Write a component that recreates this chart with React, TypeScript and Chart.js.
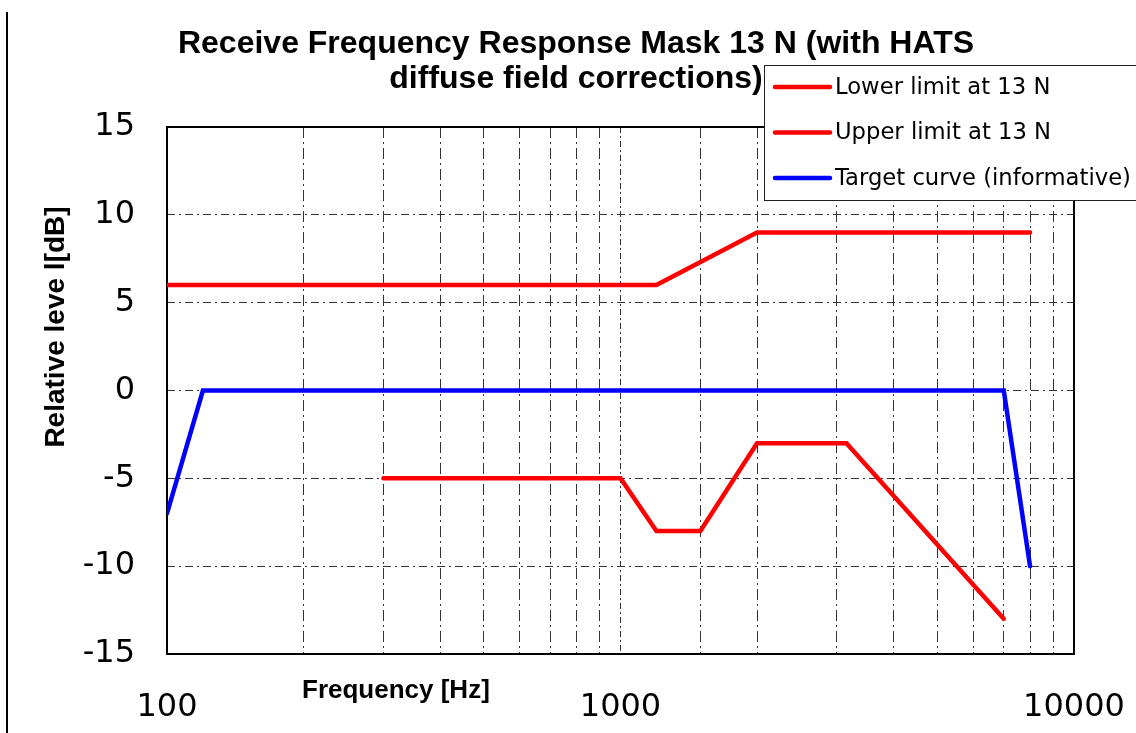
import React, { useEffect, useRef } from 'react';
import { Chart, registerables } from 'chart.js';

Chart.register(...registerables);

// ---- data ----
const chartTitle = ['Receive Frequency Response Mask 13 N (with HATS', 'diffuse field corrections)'];
const xAxisTitle = 'Frequency [Hz]';
const yAxisTitle = 'Relative leve l[dB]';
const seriesLabels = ['Lower limit at 13 N', 'Upper limit at 13 N', 'Target curve (informative)'];
const seriesColors = ['#ff0000', '#ff0000', '#0000ff'];

const lowerFreq = [300, 1000, 1200, 1500, 2000, 3150, 7000];
const lowerLevel = [-5, -5, -8, -8, -3, -3, -13];
const upperFreq = [100, 1200, 2000, 8000];
const upperLevel = [6, 6, 9, 9];
const targetFreq = [100, 120, 7000, 8000];
const targetLevel = [-7, 0, 0, -10];

const xTickLabels = [100, 1000, 10000];
const yTickValues = [-15, -10, -5, 0, 5, 10, 15];

const toPoints = (xs: number[], ys: number[]) => xs.map((x, i) => ({ x, y: ys[i] }));

const TICK_FONT = { family: '"DejaVu Sans", Verdana, sans-serif', size: 32, weight: 'normal' as const };

const decor = {
  id: 'decor',
  beforeDatasetsDraw(chart: any) {
    const { ctx, chartArea: a } = chart;
    ctx.save();
    ctx.strokeStyle = '#000';
    ctx.lineWidth = 2;
    ctx.strokeRect(a.left, a.top, a.right - a.left, a.bottom - a.top);
    ctx.restore();
  },
  afterDraw(chart: any) {
    const { ctx } = chart;
    ctx.save();
    // page rule at the left
    ctx.fillStyle = '#000';
    ctx.fillRect(6, 12, 2, 733 - 12);

    // title
    ctx.fillStyle = '#000';
    ctx.font = 'bold 32px "Liberation Sans", Arial, sans-serif';
    ctx.textAlign = 'center';
    ctx.textBaseline = 'alphabetic';
    ctx.fillText(chartTitle[0], 576, 53);
    ctx.fillText(chartTitle[1], 576, 88);

    // x axis title
    ctx.font = 'bold 26px "Liberation Sans", Arial, sans-serif';
    ctx.textAlign = 'left';
    ctx.fillText(xAxisTitle, 302, 698);

    // y axis title
    ctx.save();
    ctx.font = 'bold 28px "Liberation Sans", Arial, sans-serif';
    ctx.translate(64, 327);
    ctx.rotate(-Math.PI / 2);
    ctx.textAlign = 'center';
    ctx.fillText(yAxisTitle, 0, 0);
    ctx.restore();

    // legend
    const lx = 764, ly = 65, lh = 135;
    ctx.fillStyle = '#fff';
    ctx.fillRect(lx, ly, 400, lh);
    ctx.strokeStyle = '#222';
    ctx.lineWidth = 1;
    ctx.strokeRect(lx + 0.5, ly + 0.5, 400, lh);
    ctx.font = '22.7px "DejaVu Sans", Verdana, sans-serif';
    ctx.textAlign = 'left';
    ctx.textBaseline = 'middle';
    seriesLabels.forEach((label, i) => {
      const y = ly + 22 + i * 45.5;
      ctx.strokeStyle = seriesColors[i];
      ctx.lineWidth = 4.5;
      ctx.lineCap = 'round';
      ctx.beginPath();
      ctx.moveTo(lx + 11, y);
      ctx.lineTo(lx + 66, y);
      ctx.stroke();
      ctx.fillStyle = '#000';
      ctx.fillText(label, lx + 71, y + 1);
    });
    ctx.restore();
  },
};

export default function App() {
  const ref = useRef<HTMLCanvasElement>(null);
  useEffect(() => {
    const datasets = [
      { label: seriesLabels[0], data: toPoints(lowerFreq, lowerLevel), borderColor: seriesColors[0] },
      { label: seriesLabels[1], data: toPoints(upperFreq, upperLevel), borderColor: seriesColors[1] },
      { label: seriesLabels[2], data: toPoints(targetFreq, targetLevel), borderColor: seriesColors[2] },
    ].map((d) => ({
      ...d,
      borderWidth: 4.5,
      pointRadius: 0,
      fill: false,
      tension: 0,
      borderCapStyle: 'round' as const,
      borderJoinStyle: 'miter' as const,
    }));

    const chart = new Chart(ref.current as HTMLCanvasElement, {
      type: 'line',
      data: { datasets },
      plugins: [decor],
      options: {
        responsive: false,
        animation: false,
        layout: { padding: { top: 127, right: 62, left: 0, bottom: 0 } },
        plugins: {
          legend: { display: false },
          title: { display: false },
          tooltip: { enabled: false },
        },
        scales: {
          x: {
            type: 'logarithmic',
            min: 100,
            max: 10000,
            grid: { color: '#333', lineWidth: 1, drawTicks: false },
            border: {
              display: false,
              dash: (c: any) => (c.tick && c.tick.value === 1000 ? [6, 3, 2, 3] : [11, 4, 2, 4]),
            },
            ticks: {
              autoSkip: false,
              maxRotation: 0,
              minRotation: 0,
              padding: 34,
              color: '#000',
              font: TICK_FONT,
              callback: (v: any) => (xTickLabels.includes(Number(v)) ? String(v) : ''),
            },
            afterFit: (s: any) => {
              s.height = 79;
              s.paddingLeft = 0;
              s.paddingRight = 0;
            },
          },
          y: {
            type: 'linear',
            min: -15,
            max: 15,
            grid: { color: '#333', lineWidth: 1, drawTicks: false },
            border: { display: false, dash: [8, 4, 2, 4] },
            ticks: {
              stepSize: 5,
              padding: 32,
              color: '#000',
              font: TICK_FONT,
              callback: (v: any) => (yTickValues.includes(Number(v)) ? String(v) : ''),
            },
            afterFit: (s: any) => {
              s.width = 167;
            },
          },
        },
      } as any,
    });
    return () => chart.destroy();
  }, []);

  return (
    <div style={{ position: 'absolute', left: 0, top: 0, width: 1136, height: 733, background: '#fff' }}>
      <canvas ref={ref} width={1136} height={733} style={{ display: 'block' }} />
    </div>
  );
}
